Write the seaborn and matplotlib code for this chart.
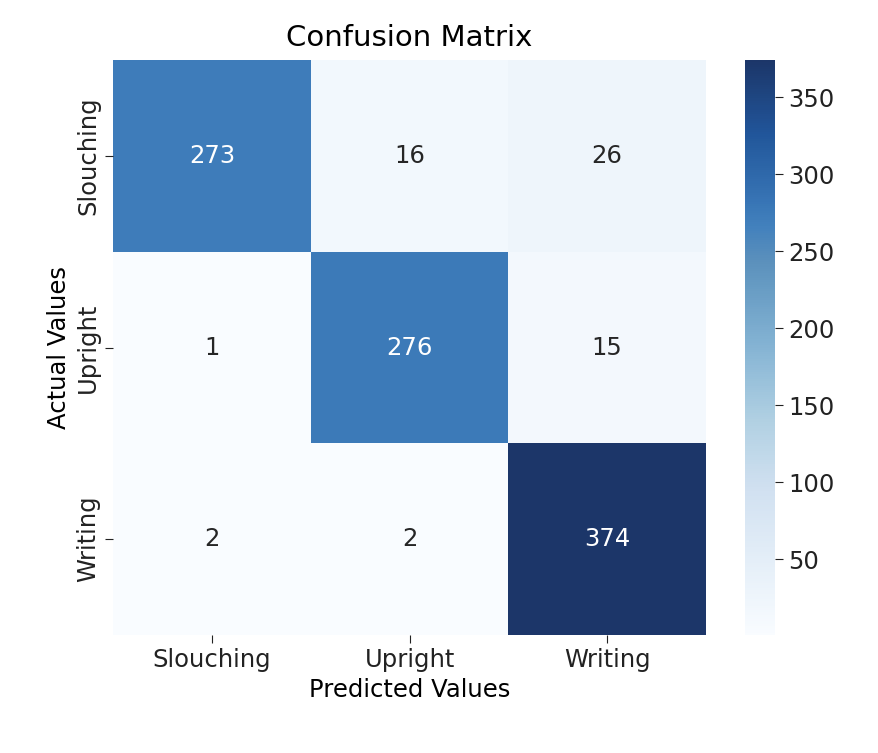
import colorsys
import matplotlib
matplotlib.use("Agg")
import matplotlib.pyplot as plt
from matplotlib.colors import ListedColormap
import numpy as np
import pandas as pd
import seaborn as sns

# confusion matrix values, rows = actual, cols = predicted
classes = ["Slouching", "Upright", "Writing"]
row_slouching = [273, 16, 26]
row_upright = [1, 276, 15]
row_writing = [2, 2, 374]

cm = pd.DataFrame([row_slouching, row_upright, row_writing],
                  index=classes, columns=classes)

# slightly muted version of Blues to match the screenshot tones
pos = np.linspace(0, 1, 256)
base = plt.get_cmap("Blues")(pos)
muted = []
for t, (r, g, b, a) in zip(pos, base):
    h, l, s = colorsys.rgb_to_hls(r, g, b)
    l = l + 0.2 * l * (1 - l)
    s = s * (1 - 0.32 * t)
    h = (h + 4 / 360 * t) % 1
    muted.append(colorsys.hls_to_rgb(h, l, s))
cmap = ListedColormap(muted)

fig = plt.figure(figsize=(8.79, 7.53), dpi=100)
ax = fig.add_axes([0.129, 0.157, 0.674, 0.763])
cax = fig.add_axes([0.848, 0.157, 0.034, 0.763])

sns.heatmap(cm, annot=True, fmt="d", cmap=cmap, ax=ax, cbar_ax=cax,
            annot_kws={"fontsize": 17.5})

ax.set_title("Confusion Matrix", fontsize=21, pad=10)
ax.set_xlabel("Predicted Values", fontsize=17.5)
ax.set_ylabel("Actual Values", fontsize=17.5)
ax.tick_params(labelsize=17.5, length=6, colors="#222222")
plt.setp(ax.get_yticklabels(), rotation=90, va="center")
cax.tick_params(labelsize=17.5, length=6, colors="#222222")

fig.savefig("out.png", dpi=100)
